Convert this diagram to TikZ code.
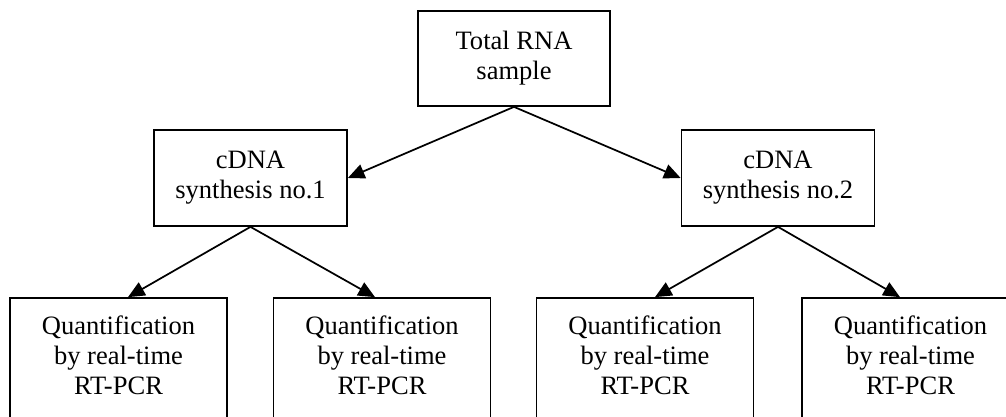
\documentclass[tikz,border=0pt]{standalone}
\usepackage{fontspec}
\setmainfont{Liberation Serif}
\usetikzlibrary{arrows.meta}
\begin{document}
\begin{tikzpicture}[x=0.75pt,y=-0.75pt,
  box/.style={draw,line width=1.3pt,inner sep=0pt,align=center,
    font=\fontsize{19.9}{22.5}\selectfont},
  topbox/.style={box,minimum width=144pt,minimum height=71.25pt},
  midbox/.style={box,minimum width=144.75pt,minimum height=72pt},
  qbox/.style={box,minimum width=162.75pt,minimum height=97.5pt,text depth=12pt},
  arr/.style={line width=1.3pt,-{Triangle[length=12.5pt,width=11pt]}}]
\clip (0,0) rectangle (1006,417);
\useasboundingbox (0,0) rectangle (1006,417);
\node[topbox] (top) at (514,58.5) {Total RNA\\sample};
\node[midbox] (m1) at (250.5,178) {cDNA\\synthesis no.1};
\node[midbox] (m2) at (778,178) {cDNA\\synthesis no.2};
\node[qbox] (b1) at (118.5,363) {Quantification\\by real-time\\RT-PCR};
\node[qbox] (b2) at (382,363) {Quantification\\by real-time\\RT-PCR};
\node[qbox] (b3) at (645,363) {Quantification\\by real-time\\RT-PCR};
\node[qbox] (b4) at (910.5,363) {Quantification\\by real-time\\RT-PCR};
\coordinate (ta) at (top.south);
\coordinate (m1a) at (m1.south);
\coordinate (m2a) at (m2.south);
\draw[arr] (ta) -- (m1.east);
\draw[arr] (ta) -- (m2.west);
\draw[arr] (m1a) -- (b1.north -| 128,0);
\draw[arr] (m1a) -- (b2.north -| 375,0);
\draw[arr] (m2a) -- (b3.north -| 655,0);
\draw[arr] (m2a) -- (b4.north -| 900,0);
\end{tikzpicture}
\end{document}
